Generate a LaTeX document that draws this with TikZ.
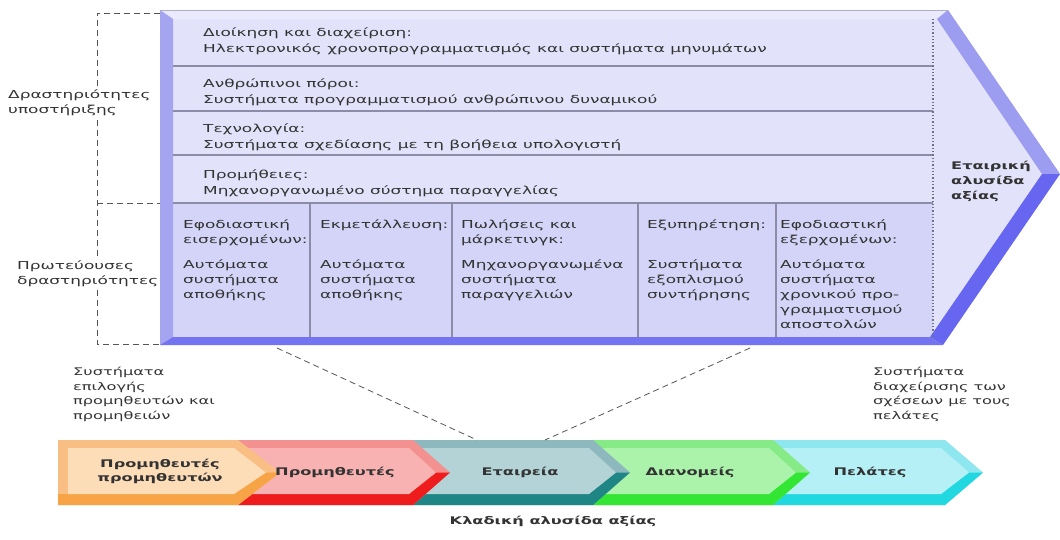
\documentclass[tikz,border=0pt]{standalone}
\usepackage{fontspec}
\newfontfamily\vc{DejaVu Sans}[FakeStretch=1.54]
\definecolor{txt}{HTML}{333333}
\definecolor{prow}{HTML}{E2E2FA}
\definecolor{pface}{HTML}{D4D4F8}
\definecolor{ptop}{HTML}{EAEAFC}
\definecolor{pleft}{HTML}{A4A4F0}
\definecolor{pbot}{HTML}{7474F0}
\definecolor{pup}{HTML}{9C9CF0}
\definecolor{plow}{HTML}{6666F0}
\definecolor{pline}{HTML}{8C8CA8}
\definecolor{dash}{HTML}{555555}
% value-chain segment colours: outer band, face, dark bevel
\definecolor{orA}{HTML}{F9BE84}\definecolor{orB}{HTML}{FDDCB8}\definecolor{orC}{HTML}{F7A447}
\definecolor{rdA}{HTML}{F39090}\definecolor{rdB}{HTML}{F9B2B2}\definecolor{rdC}{HTML}{EE1C1C}
\definecolor{tlA}{HTML}{8DB8BE}\definecolor{tlB}{HTML}{B3D3D6}\definecolor{tlC}{HTML}{1F8585}
\definecolor{grA}{HTML}{86EA86}\definecolor{grB}{HTML}{ABF2AB}\definecolor{grC}{HTML}{33E633}
\definecolor{cyA}{HTML}{8EE6EE}\definecolor{cyB}{HTML}{B4F0F5}\definecolor{cyC}{HTML}{22D8E0}
% one chevron segment: left x, right x, tip x, outer, face, dark
\newcommand\chevseg[6]{%
  \fill[#4] (#1,440) -- (#2,440) -- (#3,472.5) -- (#2,505) -- (#1,505) -- cycle;
  \fill[#6] (#1,494) -- ({#2-4},494) -- ({#3-14},472.5) -- (#3,472.5) -- (#2,505) -- (#1,505) -- cycle;
  \fill[#5] ({#1+10},448) -- ({#2-4},448) -- ({#3-14},472.5) -- ({#2-4},494) -- ({#1+10},494) -- cycle;
}
\tikzset{
  txtnode/.style={inner sep=0pt, anchor=north west, align=left, text=txt,
    font=\vc\fontsize{11}{15}\selectfont},
  rownode/.style={txtnode, font=\vc\fontsize{11}{16}\selectfont},
  sidelabel/.style={txtnode, fill=white, inner ysep=2pt},
  seglabel/.style={inner sep=0pt, align=center, text=txt,
    font=\vc\bfseries\fontsize{10.5}{14}\selectfont},
  bracket/.style={draw=dash, line width=0.9pt, dash pattern=on 6pt off 4pt},
  sepline/.style={draw=pline, line width=1.2pt},
}
\begin{document}
\begin{tikzpicture}[x=1pt,y=-1pt]
\useasboundingbox (0,0) rectangle (1060,539);
\fill[white] (0,0) rectangle (1060,539);

% dashed brackets on the left
\coordinate (bt) at (160,13);
\coordinate (bm) at (160,203);
\coordinate (bb) at (160,344);
\draw[bracket] (bt) -- (97,13) -- (97,344) -- (bb);
\draw[bracket] (97,203) -- (bm);

% side labels
\node[sidelabel] (sup) at (8,87) {Δραστηριότητες\\υποστήριξης};
\node[sidelabel] (prim) at (17,258) {Πρωτεύουσες\\δραστηριότητες};

% enterprise value chain panel
\fill[prow] (160,10) -- (948,10) -- (1060,174) -- (943,345) -- (160,345) -- cycle;
\fill[pface] (173,203) rectangle (933,337);
\fill[ptop] (160,10) -- (948,10) -- (937,19) -- (173,19) -- cycle;
\fill[pleft] (160,10) -- (173,19) -- (173,337) -- (160,345) -- cycle;
\fill[pup] (948,10) -- (1060,174) -- (1042,174) -- (937,19) -- cycle;
\fill[plow] (1042,174) -- (1060,174) -- (943,345) -- (930,337) -- cycle;
\fill[pbot] (160,345) -- (173,337) -- (930,337) -- (943,345) -- cycle;
\draw[pline!70, line width=0.6pt] (160,10) -- (948,10);

\foreach \y in {66,111,155,203} \draw[sepline] (173,\y) -- (933,\y);
\foreach \x in {310,452,638,776} \draw[sepline] (\x,203) -- (\x,337);
\draw[pline!80!black, line width=1.3pt, dotted] (933,19) -- (933,337);

% support activities
\node[rownode] (row1) at (203,27) {Διοίκηση και διαχείριση:\\Ηλεκτρονικός χρονοπρογραμματισμός και συστήματα μηνυμάτων};
\node[rownode] (row2) at (203,78) {Ανθρώπινοι πόροι:\\Συστήματα προγραμματισμού ανθρώπινου δυναμικού};
\node[rownode] (row3) at (203,123) {Τεχνολογία:\\Συστήματα σχεδίασης με τη βοήθεια υπολογιστή};
\node[rownode] (row4) at (203,169) {Προμήθειες:\\Μηχανοργανωμένο σύστημα παραγγελίας};

% primary activities
\node[txtnode] (col1) at (183,219) {Εφοδιαστική\\εισερχομένων:\\[10pt]Αυτόματα\\συστήματα\\αποθήκης};
\node[txtnode] (col2) at (320,219) {Εκμετάλλευση:\\ \\[10pt]Αυτόματα\\συστήματα\\αποθήκης};
\node[txtnode] (col3) at (461,219) {Πωλήσεις και\\μάρκετινγκ:\\[10pt]Μηχανοργανωμένα\\συστήματα\\παραγγελιών};
\node[txtnode] (col4) at (647,219) {Εξυπηρέτηση:\\ \\[10pt]Συστήματα\\εξοπλισμού\\συντήρησης};
\node[txtnode] (col5) at (780,219) {Εφοδιαστική\\εξερχομένων:\\[10pt]Αυτόματα\\συστήματα\\χρονικού προ-\\γραμματισμού\\αποστολών};

\node[txtnode, font=\vc\bfseries\fontsize{10.5}{15}\selectfont] (firm) at (951,161) {Εταιρική\\αλυσίδα\\αξίας};

% industry value chain
\chevseg{773}{945}{983}{cyA}{cyB}{cyC}
\chevseg{593}{773}{810}{grA}{grB}{grC}
\chevseg{413}{593}{630}{tlA}{tlB}{tlC}
\chevseg{238}{413}{450}{rdA}{rdB}{rdC}
\chevseg{58}{238}{280}{orA}{orB}{orC}

\node[seglabel] (s1) at (160,471) {Προμηθευτές\\προμηθευτών};
\node[seglabel] (s2) at (335,472) {Προμηθευτές};
\node[seglabel] (s3) at (520,472) {Εταιρεία};
\node[seglabel] (s4) at (690,472) {Διανομείς};
\node[seglabel] (s5) at (870,472) {Πελάτες};
\node[seglabel] (cap) at (553,521) {Κλαδική αλυσίδα αξίας};

\node[txtnode, font=\vc\fontsize{10.5}{14.5}\selectfont] (supsys) at (73,367) {Συστήματα\\επιλογής\\προμηθευτών και\\προμηθειών};
\node[txtnode, font=\vc\fontsize{10.5}{14.5}\selectfont] (crm) at (873,367) {Συστήματα\\διαχείρισης των\\σχέσεων με τους\\πελάτες};

% zoom lines from the panel to the firm
\coordinate (pA) at (277,348);
\coordinate (pB) at (750,348);
\coordinate (eA) at (477,440);
\coordinate (eB) at (545,440);
\draw[bracket, line width=0.8pt] (pA) -- (eA);
\draw[bracket, line width=0.8pt] (pB) -- (eB);
\end{tikzpicture}
\end{document}
